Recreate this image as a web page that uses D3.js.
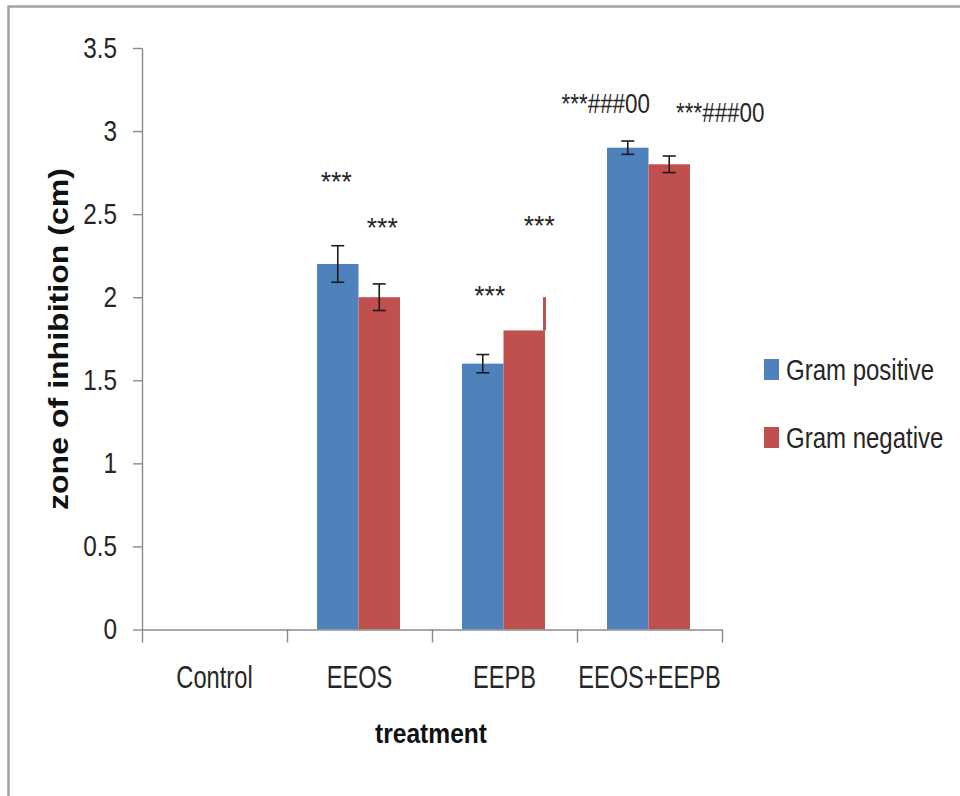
<!DOCTYPE html>
<html lang="en">
<head>
    <meta charset="UTF-8">
    <title>Zone of inhibition</title>
    <script src="https://d3js.org/d3.v7.min.js"></script>
    <style>
        body { margin: 0; background: #fff; }
        text { font-family: "Liberation Sans", Arial, sans-serif; fill: #262626; }
        .bold { font-weight: bold; fill: #111; }
    </style>
</head>
<body>
<script>
// chart values
var categories = ["Control", "EEOS", "EEPB", "EEOS+EEPB"];
var seriesNames = ["Gram positive", "Gram negative"];
var gramPositive = [0, 2.2, 1.6, 2.9];
var gramNegative = [0, 2.0, 1.8, 2.8];
var errPositive = [0, 0.11, 0.055, 0.04];
var errNegative = [0, 0.08, 0, 0.05];
// the red stroke above the EEPB negative bar, up to 2.0
var strayLine = [{cat: "EEPB", series: "Gram negative", from: 1.8, to: 2.0}];
var labelsPositive = ["", "***", "***", "***###00"];
var labelsNegative = ["", "***", "***", "***###00"];
var yTicks = [0, 0.5, 1, 1.5, 2, 2.5, 3, 3.5];
var yTickLabels = ["0", "0.5", "1", "1.5", "2", "2.5", "3", "3.5"];

var colors = {"Gram positive": "#4f81bd", "Gram negative": "#c0504d"};
var axisColor = "#8a8a8a";

// the source font is tall and narrow, so squeeze texts horizontally
function squeeze(sel, sx) {
    sel.each(function() {
        var t = d3.select(this);
        var tx = +t.attr("x") || 0, ty = +t.attr("y") || 0;
        t.attr("x", 0).attr("y", 0)
         .attr("transform", "translate(" + tx + "," + ty + ") scale(" + sx + ",1)");
    });
}

var svg = d3.select("body").append("svg")
    .attr("width", 960)
    .attr("height", 796);

// outer chart frame (runs past the right and bottom edges)
svg.append("rect")
    .attr("x", 8.5).attr("y", 6.5)
    .attr("width", 1000).attr("height", 1000)
    .attr("fill", "none")
    .attr("stroke", "#a3a3a3")
    .attr("stroke-width", 2.5);

var y = d3.scaleLinear().domain([0, 3.5]).range([629.5, 48]);
var x = d3.scaleBand().domain(categories).range([142, 722]).padding(0);
var groupW = x.bandwidth() * 0.572;
var x1 = d3.scaleBand().domain(seriesNames).range([0, groupW]).padding(0);
var groupStart = function(c) { return x(c) + (x.bandwidth() - groupW) / 2 - 1; };

var rows = [];
categories.forEach(function(c, i) {
    rows.push({cat: c, i: i, series: "Gram positive", value: gramPositive[i], err: errPositive[i], label: labelsPositive[i]});
    rows.push({cat: c, i: i, series: "Gram negative", value: gramNegative[i], err: errNegative[i], label: labelsNegative[i]});
});

// bars
svg.selectAll(".bar")
    .data(rows.filter(function(d) { return d.value > 0; }))
  .enter().append("rect")
    .attr("class", "bar")
    .attr("x", function(d) { return groupStart(d.cat) + x1(d.series); })
    .attr("width", x1.bandwidth())
    .attr("y", function(d) { return y(d.value); })
    .attr("height", function(d) { return y(0) - y(d.value); })
    .attr("fill", function(d) { return colors[d.series]; });

// error bars
var errRows = rows.filter(function(d) { return d.err > 0; });
var ex = function(d) { return groupStart(d.cat) + x1(d.series) + x1.bandwidth() / 2; };
var eb = svg.selectAll(".err").data(errRows).enter().append("g")
    .attr("stroke", "#1c1c1c").attr("stroke-width", 1.6);
eb.append("line")
    .attr("x1", ex).attr("x2", ex)
    .attr("y1", function(d) { return y(d.value + d.err); })
    .attr("y2", function(d) { return y(d.value - d.err); });
eb.append("line")
    .attr("x1", function(d) { return ex(d) - 6.5; }).attr("x2", function(d) { return ex(d) + 6.5; })
    .attr("y1", function(d) { return y(d.value + d.err); })
    .attr("y2", function(d) { return y(d.value + d.err); });
eb.append("line")
    .attr("x1", function(d) { return ex(d) - 6.5; }).attr("x2", function(d) { return ex(d) + 6.5; })
    .attr("y1", function(d) { return y(d.value - d.err); })
    .attr("y2", function(d) { return y(d.value - d.err); });

// stray red stroke, hugging the bar's right edge
svg.selectAll(".stray").data(strayLine).enter().append("line")
    .attr("x1", function(d) { return groupStart(d.cat) + x1(d.series) + x1.bandwidth() - 0.5; })
    .attr("x2", function(d) { return groupStart(d.cat) + x1(d.series) + x1.bandwidth() - 0.5; })
    .attr("y1", function(d) { return y(d.from); })
    .attr("y2", function(d) { return y(d.to); })
    .attr("stroke", colors["Gram negative"])
    .attr("stroke-width", 3);

// significance labels: horizontal nudge (px) and baseline height (axis units)
var labelSpots = {
    "EEOS|Gram positive": [-1.5, 2.64],
    "EEOS|Gram negative": [3, 2.365],
    "EEPB|Gram positive": [7, 1.955],
    "EEPB|Gram negative": [15, 2.377],
    "EEOS+EEPB|Gram positive": [-22, 3.111],
    "EEOS+EEPB|Gram negative": [51, 3.057]
};
var sig = svg.selectAll(".sig")
    .data(rows.filter(function(d) { return d.label; }))
  .enter().append("text")
    .attr("x", function(d) { return ex(d) + labelSpots[d.cat + "|" + d.series][0]; })
    .attr("y", function(d) { return y(labelSpots[d.cat + "|" + d.series][1]); })
    .attr("text-anchor", "middle")
    .style("font-size", "28px")
    .text(function(d) { return d.label; });
squeeze(sig.filter(function(d) { return d.label.length <= 3; }), 0.95);
squeeze(sig.filter(function(d) { return d.label.length > 3; }), 0.8);

// y axis
var yAxis = svg.append("g")
    .attr("transform", "translate(142,0)")
    .call(d3.axisLeft(y).tickValues(yTicks).tickSize(9).tickSizeOuter(0).tickPadding(16)
        .tickFormat(function(d, i) { return yTickLabels[i]; }));
yAxis.select(".domain").attr("stroke", axisColor).attr("stroke-width", 1.4);
yAxis.selectAll(".tick line").attr("stroke", axisColor).attr("stroke-width", 1.4);
var yText = yAxis.selectAll(".tick text").style("font-size", "29px").attr("fill", "#262626")
    .style("font-family", "'Liberation Sans', Arial, sans-serif");
squeeze(yText, 0.84);

// x axis: boundary ticks
var xb = d3.scaleLinear().domain([0, categories.length]).range([142, 722]);
var xAxis = svg.append("g")
    .attr("transform", "translate(0," + y(0) + ")")
    .call(d3.axisBottom(xb).tickValues(d3.range(categories.length + 1)).tickSize(13).tickSizeOuter(0).tickFormat(""));
xAxis.select(".domain").attr("stroke", axisColor).attr("stroke-width", 1.4);
xAxis.selectAll(".tick line").attr("stroke", axisColor).attr("stroke-width", 1.4);

// category labels
var cats = svg.selectAll(".cat")
    .data(categories)
  .enter().append("text")
    .attr("x", function(d) { return x(d) + x.bandwidth() / 2; })
    .attr("y", 688)
    .attr("text-anchor", "middle")
    .style("font-size", "32px")
    .text(function(d) { return d; });
squeeze(cats, 0.74);

// axis titles
svg.append("text")
    .attr("class", "bold")
    .attr("transform", "translate(68,339) rotate(-90)")
    .attr("text-anchor", "middle")
    .attr("textLength", 342)
    .attr("lengthAdjust", "spacingAndGlyphs")
    .style("font-size", "28px")
    .text("zone of inhibition  (cm)");

svg.append("text")
    .attr("class", "bold")
    .attr("x", 431)
    .attr("y", 743)
    .attr("text-anchor", "middle")
    .attr("textLength", 112)
    .attr("lengthAdjust", "spacingAndGlyphs")
    .style("font-size", "28px")
    .text("treatment");

// legend
var legend = svg.selectAll(".legend")
    .data(seriesNames)
  .enter().append("g")
    .attr("transform", function(d, i) { return "translate(764," + (359 + i * 68) + ")"; });
legend.append("rect")
    .attr("width", 15).attr("height", 21)
    .attr("fill", function(d) { return colors[d]; });
var legText = legend.append("text")
    .attr("x", 22)
    .attr("y", 21)
    .style("font-size", "30px")
    .text(function(d) { return d; });
squeeze(legText, 0.8);
</script>
</body>
</html>
